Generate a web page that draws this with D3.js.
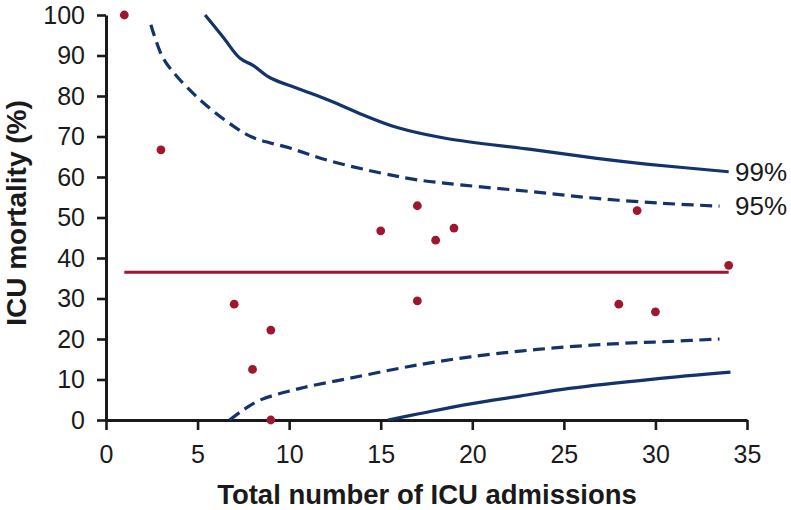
<!DOCTYPE html>
<html>
<head>
<meta charset="utf-8">
<script src="https://cdn.jsdelivr.net/npm/d3@7/dist/d3.min.js"></script>
<style>
  html, body { margin: 0; padding: 0; background: #fff; }
  svg { display: block; font-family: "Liberation Sans", Arial, sans-serif; }
</style>
</head>
<body>
<svg id="chart" width="791" height="510"></svg>
<script>
// ── Data ─────────────────────────────────────────────────────────────────────
const admissions = [1, 3, 7, 8, 9, 9, 15, 17, 17, 18, 19, 28, 29, 30, 34];
const mortality  = [100, 66.7, 28.6, 12.5, 22.2, 0, 46.7, 52.9, 29.4, 44.4, 47.4, 28.6, 51.7, 26.7, 38.2];

const meanMortality = 36.5;
const meanRange = [1, 34];

// control limits: [admissions, mortality %]
const upper99 = [[5.41, 100], [6.4, 94.5], [7.32, 89.3], [8.05, 87.5], [8.96, 84.5], [10.5, 81.8],
  [12.2, 78.9], [14.05, 75.3], [15.9, 72.2], [18.6, 69.5], [23.2, 66.8], [26.8, 64.6], [29.5, 63.2], [34.0, 61.3]];
const upper95 = [[2.45, 97.6], [3.1, 89.5], [3.9, 84.7], [5.1, 79.2], [6.6, 73.7], [8.0, 69.8], [10, 67.2],
  [12.2, 64.0], [15, 61.0], [17, 59.3], [19.5, 58.0], [23.2, 56.4], [26.8, 54.7], [30.4, 53.5], [33.5, 52.8]];
const lower95 = [[6.75, 0], [7.5, 2.5], [8.4, 4.9], [10.6, 7.8], [13.3, 10.3], [16.06, 12.8], [17.7, 14.1],
  [19.9, 15.6], [22.6, 17.0], [25.3, 18.1], [28.1, 18.9], [30.8, 19.4], [33.5, 20.0]];
const lower99 = [[15.4, 0], [17.15, 1.6], [19.9, 4.0], [22.6, 5.9], [25.3, 7.8], [29.9, 10.1], [34.1, 11.8]];

const xTicks = [0, 5, 10, 15, 20, 25, 30, 35];
const yTicks = [0, 10, 20, 30, 40, 50, 60, 70, 80, 90, 100];

const RED = '#a0162f';
const NAVY = '#15336b';

// ── Layout ──────────────────────────────────────────────────────────────────
const svg = d3.select('#chart');
const x = d3.scaleLinear().domain([0, 35]).range([106, 747]);
const y = d3.scaleLinear().domain([0, 100]).range([420, 15]);

// ── Axes ────────────────────────────────────────────────────────────────────
const xAxis = svg.append('g')
  .attr('transform', `translate(0,${y(0)})`)
  .call(d3.axisBottom(x).tickValues(xTicks).tickSize(10).tickSizeOuter(0).tickPadding(15));
const yAxis = svg.append('g')
  .attr('transform', `translate(${x(0)},0)`)
  .call(d3.axisLeft(y).tickValues(yTicks).tickSize(9).tickSizeOuter(0).tickPadding(12));

[xAxis, yAxis].forEach(g => {
  g.select('.domain').attr('stroke', '#1a1a1a').attr('stroke-width', 3);
  g.selectAll('.tick line').attr('stroke', '#1a1a1a').attr('stroke-width', 2.6);
  g.selectAll('.tick text')
    .attr('fill', '#1a1a1a')
    .attr('font-size', 25)
    .attr('font-family', '"Liberation Sans", Arial, sans-serif');
});

// ── Mean line ───────────────────────────────────────────────────────────────
svg.append('line')
  .attr('x1', x(meanRange[0])).attr('x2', x(meanRange[1]))
  .attr('y1', y(meanMortality)).attr('y2', y(meanMortality))
  .attr('stroke', RED).attr('stroke-width', 3);

// ── Control limits ──────────────────────────────────────────────────────────
const line = d3.line()
  .x(d => x(d[0])).y(d => y(d[1]))
  .curve(d3.curveCatmullRom.alpha(0.5));

[
  { data: upper99, dash: null },
  { data: lower99, dash: null },
  { data: upper95, dash: '12,6.5' },
  { data: lower95, dash: '12,6.5' },
].forEach(s => {
  svg.append('path')
    .datum(s.data)
    .attr('d', line)
    .attr('fill', 'none')
    .attr('stroke', NAVY)
    .attr('stroke-width', 3.2)
    .attr('stroke-dasharray', s.dash);
});

// ── Points ──────────────────────────────────────────────────────────────────
svg.append('g')
  .selectAll('circle')
  .data(admissions.map((n, i) => [n, mortality[i]]))
  .join('circle')
  .attr('cx', d => x(d[0]))
  .attr('cy', d => y(d[1]))
  .attr('r', 4.4)
  .attr('fill', RED);

// ── Labels ──────────────────────────────────────────────────────────────────
svg.append('text')
  .attr('x', 735).attr('y', y(61.3)).attr('dy', '0.35em')
  .attr('font-size', 26).attr('fill', '#1a1a1a')
  .text('99%');
svg.append('text')
  .attr('x', 735).attr('y', y(52.8)).attr('dy', '0.35em')
  .attr('font-size', 26).attr('fill', '#1a1a1a')
  .text('95%');

svg.append('text')
  .attr('x', 427).attr('y', 504)
  .attr('text-anchor', 'middle')
  .attr('font-size', 27.5).attr('font-weight', 'bold').attr('fill', '#1a1a1a')
  .text('Total number of ICU admissions');

svg.append('text')
  .attr('transform', 'translate(26,213) rotate(-90)')
  .attr('text-anchor', 'middle')
  .attr('font-size', 28).attr('font-weight', 'bold').attr('fill', '#1a1a1a')
  .text('ICU mortality (%)');
</script>
</body>
</html>
